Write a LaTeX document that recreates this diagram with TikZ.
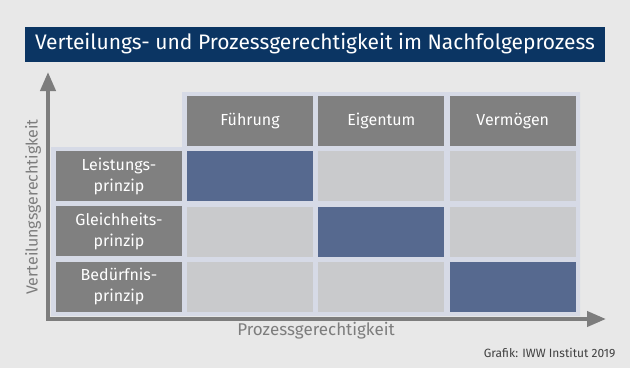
\documentclass[tikz,border=0pt]{standalone}
\usepackage{fontspec}
\setmainfont{Fira Sans}
\usepackage{tikz}
\usetikzlibrary{arrows.meta,positioning}

\definecolor{bggrey}{HTML}{E8E8E8}
\definecolor{titleblue}{HTML}{0B3563}
\definecolor{boxgrey}{HTML}{808080}
\definecolor{cellgrey}{HTML}{C9CACC}
\definecolor{cellblue}{HTML}{56698F}
\definecolor{backblue}{HTML}{D6DAE6}
\definecolor{axisgrey}{HTML}{7D7D7D}

\begin{document}
\begin{tikzpicture}[
    x=1pt,y=-1pt,
    node distance=5pt,
    titlebar/.style={rectangle,fill=titleblue,text=white,minimum width=580pt,minimum height=35pt,font=\fontsize{21}{23}\selectfont},
    header/.style={rectangle,fill=boxgrey,text=white,minimum width=126pt,minimum height=50pt,inner sep=0pt,align=center,font=\fontsize{16}{21}\selectfont},
    cell/.style={rectangle,fill=cellgrey,minimum width=126pt,minimum height=50pt,inner sep=0pt},
    hit/.style={cell,fill=cellblue},
    axis/.style={draw=axisgrey,line width=4pt,{Triangle[length=19pt,width=15pt]}-{Triangle[length=19pt,width=15pt]}},
    axislabel/.style={text=axisgrey,font=\fontsize{17}{19}\selectfont}
]

% background and margins
\fill[bggrey] (0,0) rectangle (630,368);
\useasboundingbox (0,0) rectangle (630,368);

% Title
\node[titlebar] (title) at (315,44) {Verteilungs- und Prozessgerechtigkeit im Nachfolgeprozess};

% light frame behind the matrix
\fill[backblue] (182,92) -- (580,92) -- (580,316) -- (51,316) -- (51,147) -- (182,147) -- cycle;

% Column heads
\node[header] (h1) at (250,121) {Führung};
\node[header,right=of h1] (h2) {Eigentum};
\node[header,right=of h2] (h3) {Vermögen};

% Row heads
\node[header] (r1) at (119,176) {Leistungs-\\prinzip};
\node[header,below=of r1] (r2) {Gleichheits-\\prinzip};
\node[header,below=of r2] (r3) {Bedürfnis-\\prinzip};

% Matrix cells
\node[hit,below=of h1] (c11) {};
\node[cell,below=of h2] (c12) {};
\node[cell,below=of h3] (c13) {};
\node[cell,below=of c11] (c21) {};
\node[hit,below=of c12] (c22) {};
\node[cell,below=of c13] (c23) {};
\node[cell,below=of c21] (c31) {};
\node[cell,below=of c22] (c32) {};
\node[hit,below=of c23] (c33) {};

% Axes
\coordinate (origin) at (48,319);
\coordinate (ytip) at (48,72);
\coordinate (xtip) at (606,319);
\draw[axis] (ytip) -- (origin) -- (xtip);

\node[axislabel] (xlab) at (316,331) {Prozessgerechtigkeit};
\node[axislabel,font=\fontsize{16}{18}\selectfont,rotate=90] (ylab) at (33,207) {Verteilungsgerechtigkeit};

% Source
\node[text=black!75,font=\fontsize{12}{14}\selectfont,anchor=base east] (source) at (619,357) {Grafik: IWW Institut 2019};

\end{tikzpicture}
\end{document}
